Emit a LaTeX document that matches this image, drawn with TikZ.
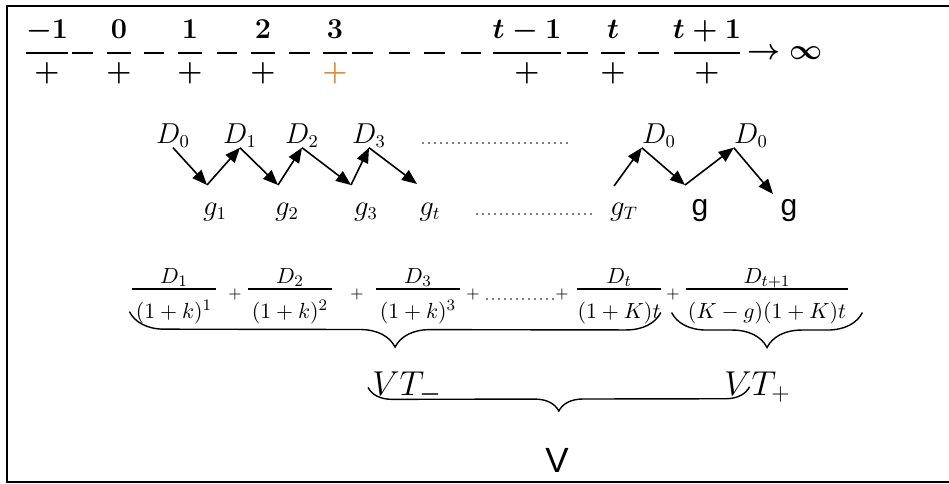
\documentclass[tikz,border=0pt]{standalone}
\usepackage{amsmath}
\usepackage{fontspec}
\newfontfamily\arialish{Liberation Sans}
\usetikzlibrary{arrows.meta,decorations.pathreplacing}
\definecolor{plusorange}{RGB}{226,134,36}
\begin{document}
\begin{tikzpicture}[x=0.5pt,y=-0.5pt,
    topnum/.style={font=\fontsize{14}{17}\selectfont\boldmath, inner sep=0pt},
    topbar/.style={line width=1.2pt},
    sepdash/.style={line width=1.2pt},
    dlab/.style={font=\fontsize{13.5}{16}\selectfont, inner sep=0pt},
    sglab/.style={font=\arialish\fontsize{15}{18}\selectfont, inner sep=0pt},
    zig/.style={line width=0.8pt, -{Triangle[length=7.5pt,width=6pt]}},
    dotrow/.style={line width=0.8pt, line cap=round, dash pattern=on 0pt off 3pt},
    fnum/.style={font=\fontsize{11}{13}\selectfont, inner sep=0pt},
    fplus/.style={font=\fontsize{8}{10}\selectfont, inner sep=0pt},
    fbar/.style={line width=1.1pt},
    curly/.style={decorate, decoration={brace, mirror, amplitude=17.5pt}, line width=0.7pt},
    vtlab/.style={font=\fontsize{17}{20}\selectfont, inner sep=0pt},
  ]
  \useasboundingbox (0,0) rectangle (949,483);
  % marco
  \draw[line width=1pt] (949,5.5) -- (7,5.5) -- (7,481.5) -- (949,481.5);

  % linea de tiempo
  \foreach \cx/\hw/\num/\pc [count=\i] in {47/21/{-1}/black, 119/12/0/black,
      190/12/1/black, 263/12/2/black, 335/12/3/plusorange, 527/34/{t-1}/black,
      613/12/t/black, 707/33/{t+1}/black}{
    \node[topnum, anchor=base] (n\i) at (\cx,38) {$\num$};
    \draw[topbar] (\cx-\hw,53) -- (\cx+\hw,53);
    \node[topnum, text=\pc] (d\i) at (\cx,73) {$+$};
  }
  \foreach \a/\b in {72/93,144/164,217/237,289/310,352/373,389/410,424/445,
      461/481,567/588,638/659}
    \draw[sepdash] (\a,53) -- (\b,53);
  \node[topnum, anchor=west] (inf) at (747,53) {$\rightarrow\infty$};

  % dividendos y crecimientos
  \node[dlab, anchor=base] (D0) at (173,143) {$D_0$};
  \node[dlab, anchor=base] (D1) at (240,143) {$D_1$};
  \node[dlab, anchor=base] (D2) at (302,143) {$D_2$};
  \node[dlab, anchor=base] (D3) at (369,143) {$D_3$};
  \node[dlab, anchor=base] (D0b) at (659,143) {$D_0$};
  \node[dlab, anchor=base] (D0c) at (751,143) {$D_0$};
  \node[dlab, anchor=base] (g1) at (215,215) {$g_1$};
  \node[dlab, anchor=base] (g2) at (287,215) {$g_2$};
  \node[dlab, anchor=base] (g3) at (366,215) {$g_3$};
  \node[dlab, anchor=base] (gt) at (430,215) {$g_t$};
  \node[dlab, anchor=base] (gT) at (624,215) {$g_T$};
  \node[sglab, anchor=base] (ga) at (700,215) {g};
  \node[sglab, anchor=base] (gb) at (789,215) {g};

  \coordinate (v1) at (207,185);
  \coordinate (v2) at (278,185);
  \coordinate (v3) at (351,185);
  \coordinate (v4) at (417,184);
  \coordinate (vT) at (614,186);
  \coordinate (v5) at (685,185);
  \coordinate (v6) at (773,194);

  \draw[zig] (D0.south) -- (v1);
  \draw[zig] (v1) -- (D1.south);
  \draw[zig] (D1.south) -- (v2);
  \draw[zig] (v2) -- (D2.south);
  \draw[zig] (D2.south) -- (v3);
  \draw[zig] (v3) -- (D3.south);
  \draw[zig] (D3.south) -- (v4);
  \draw[zig] (vT) -- (D0b.south west);
  \draw[zig] (D0b.south west) -- (v5);
  \draw[zig] (v5) -- (D0c.south west);
  \draw[zig] (D0c.south west) -- (v6);

  \draw[dotrow] (423,143) -- (567,143);
  \draw[dotrow] (477,214) -- (593,214);

  % suma de valores presentes
  \foreach \cx/\hw/\fnm/\fden [count=\i] in {174/42/{D_1}/{(1+k)^1},
      290/42/{D_2}/{(1+k)^2}, 418/42/{D_3}/{(1+k)^3}, 619/42/{D_t}/{(1+K)t},
      767/81/{D_{t+1}}/{(K-g)(1+K)t}}{
    \node[fnum, anchor=base] (fn\i) at (\cx,283) {$\fnm$};
    \draw[fbar] (\cx-\hw,289) -- (\cx+\hw,289);
    \node[fnum, anchor=base] (fd\i) at (\cx,318) {$\fden$};
  }
  \foreach \px [count=\k] in {235,357,473,562,673}
    \node[fplus] (pl\k) at (\px,294) {$+$};
  \draw[dotrow] (487,299) -- (555,299);

  \draw[curly] ([xshift=-3pt]fd1.west) -- (fd4.east);
  \draw[curly] ([xshift=-8pt]fd5.west) -- ([xshift=8pt]fd5.east);

  % valor total
  \node[vtlab, anchor=base west] (VTm) at (372,395) {$VT_{\boldsymbol{-}}$};
  \node[vtlab, anchor=base west] (VTp) at (724,395) {$VT_+$};
  \draw[curly, decoration={amplitude=12pt}] ([xshift=-2pt]VTm.west) -- ([xshift=-4pt]VTp.center);
  \node[sglab, font=\arialish\fontsize{17.5}{20}\selectfont, anchor=base] (V) at (557,472) {V};
\end{tikzpicture}
\end{document}
